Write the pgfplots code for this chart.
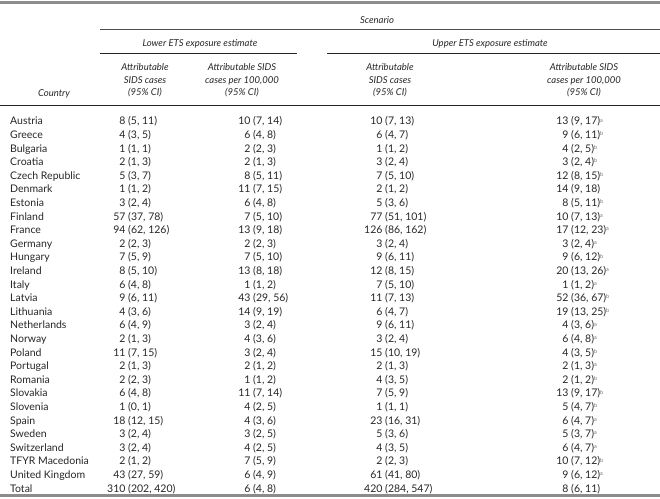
\documentclass[border=0pt]{standalone}
\usepackage{pgfplots}
\pgfplotsset{compat=1.18}
\usepackage{pgfplotstable}
\usepackage{fontspec}
\setmainfont{Lato}
\definecolor{txt}{HTML}{262626}
\definecolor{rulegray}{HTML}{8C8C8C}
\newcommand{\supnote}[1]{\pgfmathtruncatemacro{\notek}{#1}\ifcase\notek\relax\or\raisebox{2.8pt}{\fontsize{5.5}{5.5}\selectfont\color{black!55}a}\or\raisebox{2.8pt}{\fontsize{5.5}{5.5}\selectfont\color{black!55}b}\fi}
\newcommand{\pn}[1]{\pgfmathtruncatemacro{\pnval}{#1}\pnval}

\pgfplotstableread[col sep=comma]{
row,country,a1,l1,h1,a2,l2,h2,a3,l3,h3,a4,l4,h4,n4
0,Austria,8,5,11,10,7,14,10,7,13,13,9,17,1
1,Greece,4,3,5,6,4,8,6,4,7,9,6,11,2
2,Bulgaria,1,1,1,2,2,3,1,1,2,4,2,5,2
3,Croatia,2,1,3,2,1,3,3,2,4,3,2,4,2
4,Czech Republic,5,3,7,8,5,11,7,5,10,12,8,15,2
5,Denmark,1,1,2,11,7,15,2,1,2,14,9,18,0
6,Estonia,3,2,4,6,4,8,5,3,6,8,5,11,2
7,Finland,57,37,78,7,5,10,77,51,101,10,7,13,1
8,France,94,62,126,13,9,18,126,86,162,17,12,23,1
9,Germany,2,2,3,2,2,3,3,2,4,3,2,4,1
10,Hungary,7,5,9,7,5,10,9,6,11,9,6,12,2
11,Ireland,8,5,10,13,8,18,12,8,15,20,13,26,1
12,Italy,6,4,8,1,1,2,7,5,10,1,1,2,1
13,Latvia,9,6,11,43,29,56,11,7,13,52,36,67,2
14,Lithuania,4,3,6,14,9,19,6,4,7,19,13,25,2
15,Netherlands,6,4,9,3,2,4,9,6,11,4,3,6,1
16,Norway,2,1,3,4,3,6,3,2,4,6,4,8,1
17,Poland,11,7,15,3,2,4,15,10,19,4,3,5,2
18,Portugal,2,1,3,2,1,2,2,1,3,2,1,3,1
19,Romania,2,2,3,1,1,2,4,3,5,2,1,2,2
20,Slovakia,6,4,8,11,7,14,7,5,9,13,9,17,2
21,Slovenia,1,0,1,4,2,5,1,1,1,5,4,7,2
22,Spain,18,12,15,4,3,6,23,16,31,6,4,7,1
23,Sweden,3,2,4,3,2,5,5,3,6,5,3,7,1
24,Switzerland,3,2,4,4,2,5,4,3,5,6,4,7,1
25,TFYR Macedonia,2,1,2,7,5,9,2,2,3,10,7,12,2
26,United Kingdom,43,27,59,6,4,9,61,41,80,9,6,12,1
27,Total,310,202,420,6,4,8,420,284,547,8,6,11,0
}\datatable

\pgfplotsset{
  cellstyle/.style={only marks, mark=none, point meta=explicit symbolic,
    nodes near coords style={anchor=base west, inner sep=0pt, text=txt, font=\fontsize{10.5}{12}\selectfont}},
  valcol/.style 2 args={cellstyle,
    visualization depends on={\thisrow{#1} \as \lo},
    visualization depends on={\thisrow{#2} \as \hi},
    nodes near coords={\llap{\pgfplotspointmeta\ }(\pn{\lo}, \pn{\hi})}},
  notecol/.style n args={3}{cellstyle,
    visualization depends on={\thisrow{#1} \as \lo},
    visualization depends on={\thisrow{#2} \as \hi},
    visualization depends on={\thisrow{#3} \as \nt},
    nodes near coords={\llap{\pgfplotspointmeta\ }(\pn{\lo}, \pn{\hi})\supnote{\nt}}},
}

\begin{document}
\begin{tikzpicture}
\begin{axis}[
  hide axis, scale only axis, width=660pt, height=498pt,
  xmin=0, xmax=660, ymin=0, ymax=498, y dir=reverse, clip=false]

% rules
\draw[rulegray, line width=2.2pt] (axis cs:0,2.5) -- (axis cs:660,2.5);
\draw[black!70, line width=0.7pt] (axis cs:100,29.5) -- (axis cs:660,29.5);
\draw[black!85, line width=0.7pt] (axis cs:100,53.5) -- (axis cs:297,53.5);
\draw[black!85, line width=0.7pt] (axis cs:327,53.5) -- (axis cs:660,53.5);
\draw[black!85, line width=0.8pt] (axis cs:0,105.5) -- (axis cs:660,105.5);
\draw[rulegray, line width=2.2pt] (axis cs:0,495.5) -- (axis cs:660,495.5);

% headers
\begin{scope}[every node/.style={text=txt, font=\fontsize{9.5}{12.5}\selectfont\itshape, inner sep=0pt, align=center}]
\node[anchor=base] at (axis cs:377,23) {Scenario};
\node[anchor=base] at (axis cs:200,46.5) {Lower ETS exposure estimate};
\node[anchor=base] at (axis cs:490,46.5) {Upper ETS exposure estimate};
\node[anchor=base] at (axis cs:54,96.5) {Country};
\node at (axis cs:145,80.5) {Attributable\\SIDS cases\\(95\% CI)};
\node at (axis cs:242,80.5) {Attributable SIDS\\cases per 100,000\\(95\% CI)};
\node at (axis cs:390,80.5) {Attributable\\SIDS cases\\(95\% CI)};
\node at (axis cs:584,80.5) {Attributable SIDS\\cases per 100,000\\(95\% CI)};
\end{scope}

% body
\addplot[cellstyle, nodes near coords] table[x expr=10, y expr=124.8+13.6*\thisrow{row}, meta=country] {\datatable};
\addplot[valcol={l1}{h1}] table[x expr=128, y expr=124.8+13.6*\thisrow{row}, meta=a1] {\datatable};
\addplot[valcol={l2}{h2}] table[x expr=253, y expr=124.8+13.6*\thisrow{row}, meta=a2] {\datatable};
\addplot[valcol={l3}{h3}] table[x expr=385, y expr=124.8+13.6*\thisrow{row}, meta=a3] {\datatable};
\addplot[notecol={l4}{h4}{n4}] table[x expr=571, y expr=124.8+13.6*\thisrow{row}, meta=a4] {\datatable};
\end{axis}
\pgfresetboundingbox
\path (0,0) rectangle (660pt,498pt);
\end{tikzpicture}
\end{document}
